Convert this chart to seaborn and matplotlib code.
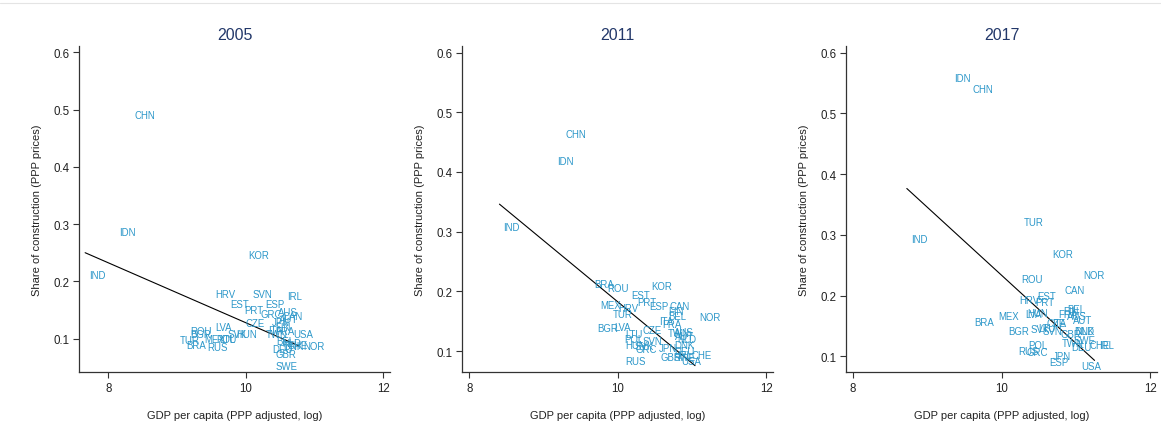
import matplotlib
matplotlib.use("Agg")
import matplotlib.pyplot as plt
from matplotlib.lines import Line2D
import seaborn as sns
import pandas as pd

# Construction share of output vs. log GDP per capita, three benchmark years
codes_2005 = ["CHN", "IDN", "IND", "KOR", "HRV", "SVN", "IRL", "EST", "ESP", "PRT",
              "GRC", "AUS", "CAN", "AUT", "JPN", "FIN", "CZE", "ITA", "FRA", "TWN",
              "USA", "BEL", "NLD", "CHE", "DNK", "DEU", "NOR", "GBR", "SWE", "ROU",
              "BGR", "LVA", "SVK", "HUN", "TUR", "BRA", "MEX", "POL", "LTU", "RUS"]
gdp_2005 = [8.32, 8.09, 7.66, 9.975, 9.50, 10.04, 10.545, 9.72, 10.22, 9.91,
            10.156, 10.41, 10.48, 10.43, 10.32, 10.365, 9.93, 10.26, 10.365, 10.23,
            10.63, 10.38, 10.47, 10.54, 10.48, 10.32, 10.77, 10.365, 10.38, 9.13,
            9.13, 9.49, 9.68, 9.80, 8.98, 9.065, 9.34, 9.51, 9.56, 9.38]
share_2005 = [0.490, 0.286, 0.211, 0.246, 0.179, 0.178, 0.174, 0.160, 0.160, 0.150,
              0.144, 0.146, 0.139, 0.135, 0.130, 0.121, 0.128, 0.116, 0.113, 0.109,
              0.109, 0.097, 0.092, 0.090, 0.087, 0.083, 0.087, 0.074, 0.052, 0.113,
              0.109, 0.121, 0.108, 0.108, 0.098, 0.090, 0.100, 0.100, 0.099, 0.086]

codes_2011 = ["CHN", "IDN", "IND", "BRA", "ROU", "KOR", "EST", "PRT", "ESP", "CAN",
              "MEX", "HRV", "TUR", "FIN", "BEL", "NOR", "ITA", "FRA", "BGR", "LVA",
              "CZE", "TWN", "AUS", "AUT", "NLD", "DNK", "LTU", "POL", "SVN", "HUN",
              "SVK", "GRC", "JPN", "DEU", "CHE", "IRL", "GBR", "SWE", "USA", "RUS"]
gdp_2011 = [9.24, 9.125, 8.405, 9.62, 9.80, 10.39, 10.12, 10.20, 10.37, 10.635,
            9.71, 9.95, 9.88, 10.625, 10.625, 11.04, 10.50, 10.545, 9.66, 9.89,
            10.275, 10.61, 10.70, 10.72, 10.74, 10.70, 10.04, 10.03, 10.28, 10.04,
            10.175, 10.175, 10.49, 10.70, 10.94, 10.745, 10.52, 10.695, 10.80, 10.04]
share_2011 = [0.463, 0.418, 0.308, 0.212, 0.206, 0.209, 0.194, 0.183, 0.175, 0.175,
              0.177, 0.173, 0.163, 0.167, 0.159, 0.157, 0.150, 0.146, 0.138, 0.141,
              0.136, 0.130, 0.132, 0.125, 0.121, 0.111, 0.128, 0.120, 0.117, 0.110,
              0.108, 0.104, 0.106, 0.100, 0.094, 0.094, 0.090, 0.090, 0.084, 0.083]

codes_2017 = ["IDN", "CHN", "IND", "TUR", "KOR", "ROU", "NOR", "CAN", "EST", "HRV",
              "PRT", "BEL", "HUN", "LVA", "FIN", "FRA", "AUS", "AUT", "MEX", "BRA",
              "BGR", "SVK", "LTU", "CZE", "ITA", "SVN", "GBR", "DNK", "NLD", "SWE",
              "POL", "RUS", "GRC", "TWN", "DEU", "CHE", "IRL", "JPN", "ESP", "USA"]
gdp_2017 = [9.31, 9.56, 8.727, 10.24, 10.625, 10.21, 11.04, 10.79, 10.43, 10.185,
            10.40, 10.83, 10.295, 10.26, 10.77, 10.71, 10.83, 10.91, 9.905, 9.58,
            10.03, 10.34, 10.44, 10.55, 10.62, 10.50, 10.74, 10.915, 10.94, 10.915,
            10.30, 10.17, 10.28, 10.76, 10.88, 11.12, 11.25, 10.63, 10.59, 11.01]
share_2017 = [0.558, 0.540, 0.293, 0.321, 0.268, 0.228, 0.233, 0.209, 0.199, 0.193,
              0.189, 0.178, 0.172, 0.169, 0.174, 0.169, 0.167, 0.160, 0.166, 0.156,
              0.141, 0.145, 0.147, 0.154, 0.154, 0.141, 0.137, 0.141, 0.141, 0.127,
              0.119, 0.108, 0.107, 0.121, 0.115, 0.118, 0.118, 0.101, 0.091, 0.084]

years = ["2005", "2011", "2017"]
panels = [
    (codes_2005, gdp_2005, share_2005),
    (codes_2011, gdp_2011, share_2011),
    (codes_2017, gdp_2017, share_2017),
]
x_ticks = [8, 10, 12]
y_ticks = [0.1, 0.2, 0.3, 0.4, 0.5, 0.6]
x_title = "GDP per capita (PPP adjusted, log)"
y_title = "Share of construction (PPP prices)"

sns.set_theme(style="ticks")
plt.rcParams["font.family"] = ["Liberation Sans", "DejaVu Sans"]

label_color = "#2c97c9"
title_color = "#23386a"
axis_color = "#333333"

fig = plt.figure(figsize=(11.61, 4.39), dpi=100)
fig.patch.set_facecolor("white")

lefts = [0.0680, 0.3979, 0.7287]
xlims = [(7.57, 12.1), (7.9, 12.09), (7.91, 12.09)]
ylims = [(0.042, 0.611), (0.065, 0.611), (0.074, 0.611)]

for left, year, (codes, gdp, share), xl, yl in zip(lefts, years, panels, xlims, ylims):
    ax = fig.add_axes([left, 0.1503, 0.2679, 0.7426])
    df = pd.DataFrame({"code": codes, "gdp": gdp, "share": share})
    sns.regplot(data=df, x="gdp", y="share", ax=ax, scatter=False, ci=None,
                truncate=True, line_kws=dict(color="black", lw=0.8))
    for _, row in df.iterrows():
        ax.annotate(row["code"], (row["gdp"], row["share"]), xytext=(3, 0),
                    textcoords="offset points", ha="left", va="center",
                    fontsize=6.9, color=label_color)
    ax.set_xlim(*xl)
    ax.set_ylim(*yl)
    ax.set_xticks(x_ticks)
    ax.set_xticklabels([str(t) for t in x_ticks])
    ax.set_yticks(y_ticks)
    ax.set_yticklabels([f"{t:.1f}" for t in y_ticks])
    ax.tick_params(axis="both", labelsize=8.3, length=4, width=0.8,
                   color=axis_color, labelcolor="#222222", pad=3)
    for side in ("top", "right"):
        ax.spines[side].set_visible(False)
    for side in ("left", "bottom"):
        ax.spines[side].set_color(axis_color)
        ax.spines[side].set_linewidth(0.9)
    ax.set_xlabel(x_title, fontsize=8, color="#222222", labelpad=12)
    ax.set_ylabel(y_title, fontsize=8, color="#222222", labelpad=8)
    ax.set_title(year, fontsize=11.5, color=title_color, pad=5)
    ax.set_facecolor("white")

fig.add_artist(Line2D([0, 1], [0.991, 0.991], color="#e4e4e4", lw=0.8,
                      transform=fig.transFigure))

fig.savefig("out.png", dpi=100, facecolor="white")
